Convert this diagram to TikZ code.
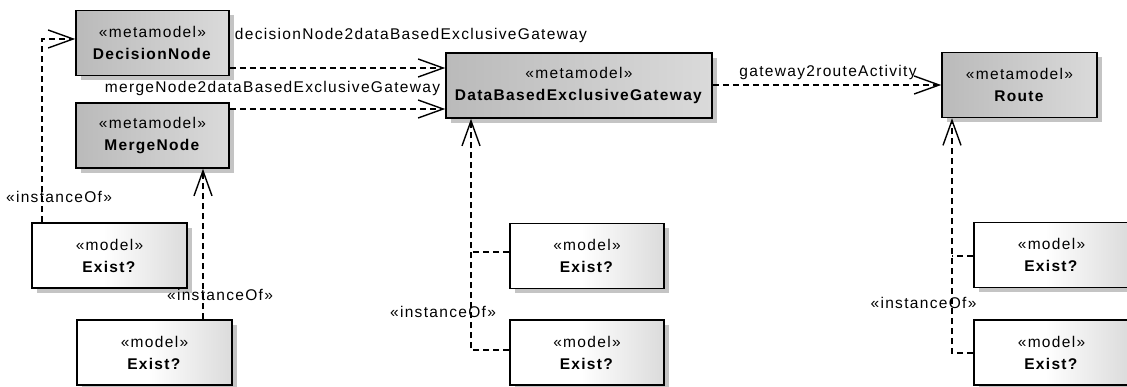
\documentclass[tikz,border=0pt]{standalone}
\usepackage{fontspec}
\setmainfont{Liberation Sans}[LetterSpace=8.5]
\usetikzlibrary{arrows.meta,shadows,calc}
\definecolor{mmleft}{RGB}{186,186,186}
\definecolor{mmright}{RGB}{218,218,218}
\definecolor{shadowc}{RGB}{196,196,196}
\pgfdeclarehorizontalshading{modelshade}{100bp}{color(0bp)=(white); color(25bp)=(white); color(48bp)=(white); color(75bp)=(black!14); color(100bp)=(black!14)}
\tikzset{
  box/.style={draw=black, line width=1.6pt, minimum width=155pt, minimum height=65pt,
    inner sep=0pt, align=center, font=\fontsize{15.5}{22}\selectfont,
    drop shadow={shadow xshift=5pt, shadow yshift=-5pt, fill=shadowc, opacity=1}},
  meta/.style={box, left color=mmleft, right color=mmright},
  model/.style={box, shading=modelshade},
  link/.style={dash pattern=on 6pt off 4pt, line width=1.3pt},
  dep/.style={link, -{Straight Barb[length=25pt, width=18pt, line width=1.4pt]}},
  lbl/.style={font=\fontsize{15.5}{18}\selectfont, inner sep=0pt}
}
\begin{document}
\begin{tikzpicture}[x=1pt, y=-1pt]
\useasboundingbox (0,0) rectangle (1127,387);
\clip (0,0) rectangle (1127,387);
% metamodel nodes
\node[meta, minimum width=153pt] (DN) at (152.5,43) {«metamodel»\\\textbf{DecisionNode}};
\node[meta, minimum width=153pt] (MN) at (152.5,135.5) {«metamodel»\\\textbf{MergeNode}};
\node[meta, minimum width=266pt] (DB) at (579,85.5) {«metamodel»\\\textbf{DataBasedExclusiveGateway}};
\node[meta] (RT) at (1019.5,85) {«metamodel»\\\textbf{Route}};
% model nodes
\node[model] (M1) at (109.5,255.5) {«model»\\\textbf{Exist?}};
\node[model] (M2) at (154.5,352.5) {«model»\\\textbf{Exist?}};
\node[model, minimum width=154pt] (M3) at (587,256) {«model»\\\textbf{Exist?}};
\node[model, minimum width=154pt] (M4) at (587,352.5) {«model»\\\textbf{Exist?}};
\node[model] (M5) at (1051.5,255) {«model»\\\textbf{Exist?}};
\node[model] (M6) at (1051.5,352.5) {«model»\\\textbf{Exist?}};
% junctions
\coordinate (j1) at (471,252);
\coordinate (j2) at (952,256);
% connectors
\draw[dep] (M1.north -| 42,0) |- ([yshift=4pt]DN.west);
\draw[dep] (M2.north -| 203,0) -- (MN.south -| 203,0);
\draw[dep] (DN.east |- 0,68) -- (DB.west |- 0,68);
\draw[dep] (MN.east |- 0,109) -- (DB.west |- 0,109);
\draw[dep] (DB.east |- 0,85) -- (RT.west |- 0,85);
\draw[dep] (M4.west |- 0,350) -| (DB.south -| j1);
\draw[link] (M3.west |- j1) -- (j1);
\draw[dep] (M6.west |- 0,353) -| (RT.south -| j2);
\draw[link] (M5.west |- j2) -- (j2);
% labels
\node[lbl] (L1) at (59,197) {«instanceOf»};
\node[lbl] (L2) at (220,295) {«instanceOf»};
\node[lbl] (L3) at (411,35) {decisionNode2dataBasedExclusiveGateway};
\node[lbl] (L4) at (272.5,88) {mergeNode2dataBasedExclusiveGateway};
\node[lbl] (L5) at (828,72) {gateway2routeActivity};
\node[lbl] (L6) at (443,312) {«instanceOf»};
\node[lbl] (L7) at (923.5,303) {«instanceOf»};
\end{tikzpicture}
\end{document}
